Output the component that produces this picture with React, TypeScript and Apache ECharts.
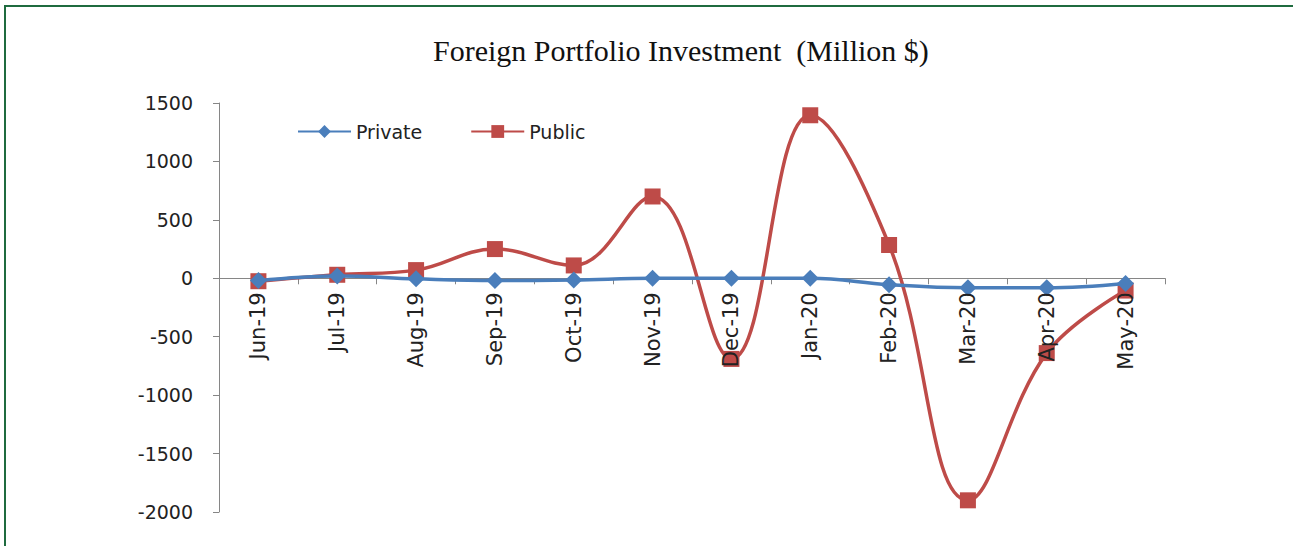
import React, { useEffect, useRef } from "react";
import * as echarts from "echarts";

const categories = ["Jun-19", "Jul-19", "Aug-19", "Sep-19", "Oct-19", "Nov-19", "Dec-19", "Jan-20", "Feb-20", "Mar-20", "Apr-20", "May-20"];
const privateValues = [-20, 20, -5, -20, -15, 0, 0, 0, -55, -82, -82, -45];
const publicValues = [-25, 30, 70, 250, 110, 700, -690, 1395, 285, -1900, -640, -105];
const yTicks = { min: -2000, max: 1500, interval: 500 };

export default function App() {
  const ref = useRef<HTMLDivElement>(null);
  useEffect(() => {
    document.body.style.margin = "0";
    const chart = echarts.init(ref.current!, null, { renderer: "svg" });
    const font = "DejaVu Sans";
    const labelStyle = { rotate: 90, margin: 14, fontFamily: font, fontSize: 21, color: "#222" };
    chart.setOption({
      animation: false,
      backgroundColor: "#ffffff",
      title: {
        text: "Foreign Portfolio Investment  (Million $)",
        left: 428,
        top: 30,
        textStyle: { fontFamily: "Liberation Serif", fontSize: 30, fontWeight: "normal", color: "#111" },
      },
      graphic: [
        {
          type: "rect",
          shape: { x: 5, y: 6, width: 1300, height: 600 },
          style: { fill: "none", stroke: "#1f6b3f", lineWidth: 2 },
          silent: true,
        },
      ],
      legend: {
        left: 292,
        top: 117,
        itemWidth: 53,
        itemHeight: 16,
        itemGap: 48,
        textStyle: { fontFamily: font, fontSize: 19, color: "#222" },
        data: ["Private", "Public"],
      },
      grid: { left: 219, right: 128, top: 103, bottom: 34, containLabel: false, outerBoundsMode: "none" },
      xAxis: [
        {
          type: "category",
          data: categories,
          boundaryGap: true,
          offset: 0,
          axisLine: { onZero: false, lineStyle: { color: "#868686", width: 1 } },
          axisTick: { show: true, length: 6, lineStyle: { color: "#868686" } },
          axisLabel: { ...labelStyle, show: false },
          splitLine: { show: false },
        },
        {
          type: "category",
          data: categories,
          position: "bottom",
          boundaryGap: true,
          offset: 0,
          z: 10,
          axisLine: { show: false, onZero: false },
          axisTick: { show: false },
          axisLabel: labelStyle,
          splitLine: { show: false },
        },
      ],
      yAxis: {
        type: "value",
        min: yTicks.min,
        max: yTicks.max,
        interval: yTicks.interval,
        axisLine: { show: true, lineStyle: { color: "#868686", width: 1 } },
        axisTick: { show: true, length: 6, lineStyle: { color: "#868686" } },
        axisLabel: { margin: 26, fontFamily: font, fontSize: 19, color: "#222", formatter: (v: number) => String(v) },
        splitLine: { show: false },
      },
      series: [
        {
          name: "Private",
          type: "line",
          xAxisIndex: 0,
          data: privateValues,
          smooth: 0.4,
          symbol: "diamond",
          symbolSize: 17,
          z: 3,
          itemStyle: { color: "#4a7ebb" },
          lineStyle: { color: "#4a7ebb", width: 3.5 },
        },
        {
          name: "Public",
          type: "line",
          xAxisIndex: 0,
          data: publicValues,
          smooth: 0.4,
          symbol: "rect",
          symbolSize: 16,
          z: 2,
          itemStyle: { color: "#be4b48" },
          lineStyle: { color: "#be4b48", width: 3.5 },
        },
      ],
    });
    const yZero = chart.convertToPixel({ yAxisIndex: 0 }, 0) as number;
    const yMin = chart.convertToPixel({ yAxisIndex: 0 }, yTicks.min) as number;
    const off = yZero - yMin;
    chart.setOption({ xAxis: [{ offset: off }, { offset: off }] });
    return () => chart.dispose();
  }, []);
  return <div ref={ref} style={{ position: "absolute", left: 0, top: 0, width: 1293, height: 546 }} />;
}
